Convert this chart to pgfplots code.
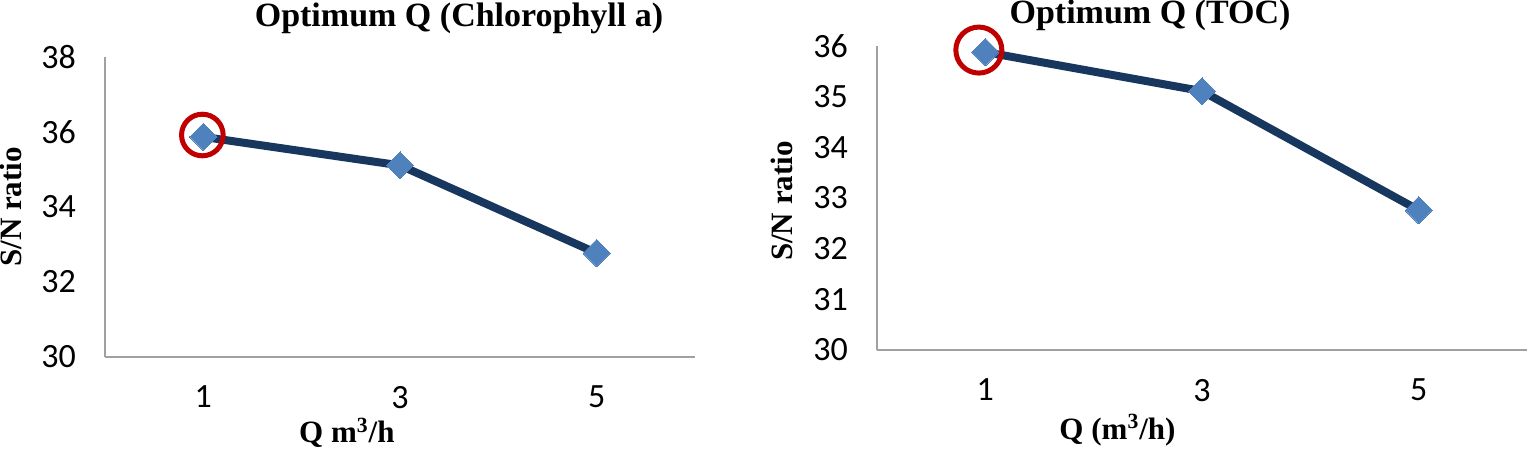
\documentclass[border=0pt]{standalone}
\usepackage{pgfplots}
\pgfplotsset{compat=1.18}
\usepackage{fontspec}
\setmainfont{Carlito}
\newfontfamily\tnr{Liberation Serif}

\definecolor{navyline}{RGB}{23,55,94}
\definecolor{mblue}{RGB}{79,129,189}
\definecolor{cred}{RGB}{192,0,0}
\definecolor{axgray}{RGB}{160,160,160}

\pgfplotsset{
  sncommon/.style={
    scale only axis,
    anchor=south west,
    clip=false,
    axis x line*=bottom,
    axis y line*=left,
    axis line style={axgray, line width=1pt, -},
    major tick length=0pt,
    xmin=-0.5, xmax=2.5,
    xtick={0,1,2},
    xticklabels={1,3,5},
    tick label style={font=\fontsize{17}{20}\selectfont, black},
    /pgf/number format/assume math mode=true,
    yticklabel style={xshift=-11pt},
    xticklabel style={yshift=-11pt},
    title style={font=\tnr\bfseries\fontsize{17}{20}\selectfont, anchor=center, yshift=0pt},
    label style={font=\tnr\bfseries\fontsize{15.5}{18}\selectfont, anchor=center},
  },
  snline/.style={navyline, line width=4pt, mark=square*,
    mark size=4.8pt, mark options={fill=mblue, draw=mblue, line width=0pt, rotate=45}},
}

\begin{document}
\begin{tikzpicture}
\path[use as bounding box] (0pt,0pt) rectangle (764.5pt,-225pt);

% left panel: chlorophyll a
\begin{axis}[sncommon,
  at={(52.5pt,-178.5pt)},
  width=295pt, height=150pt,
  ymin=30, ymax=38, ytick={30,32,34,36,38},
  title={Optimum Q (Chlorophyll a)},
  title style={at={(axis description cs:0.60,1.09)}},
  xlabel={Q m\textsuperscript{3}/h},
  xlabel style={at={(axis description cs:0.41,-0.253)}},
  ylabel={S/N ratio},
  ylabel style={at={(axis description cs:-0.16,0.5)}},
]
\addplot[snline] coordinates {(0,35.87) (1,35.11) (2,32.77)};
\addplot[only marks, mark=o, mark size=10.4pt,
  mark options={draw=cred, line width=2.5pt}] coordinates {(-0.005,35.92)};
\end{axis}

% right panel: TOC
\begin{axis}[sncommon,
  at={(438.5pt,-175pt)},
  width=325pt, height=152pt,
  ymin=30, ymax=36, ytick={30,31,32,33,34,35,36},
  title={Optimum Q (TOC)},
  title style={at={(axis description cs:0.42,1.06)}},
  xlabel={Q (m\textsuperscript{3}/h)},
  xlabel style={at={(axis description cs:0.37,-0.263)}},
  ylabel={S/N ratio},
  ylabel style={at={(axis description cs:-0.146,0.49)}},
]
\addplot[snline] coordinates {(0,35.88) (1,35.11) (2,32.76)};
\addplot[only marks, mark=o, mark size=11.5pt,
  mark options={draw=cred, line width=2.5pt}] coordinates {(-0.03,35.92)};
\end{axis}
\end{tikzpicture}
\end{document}
